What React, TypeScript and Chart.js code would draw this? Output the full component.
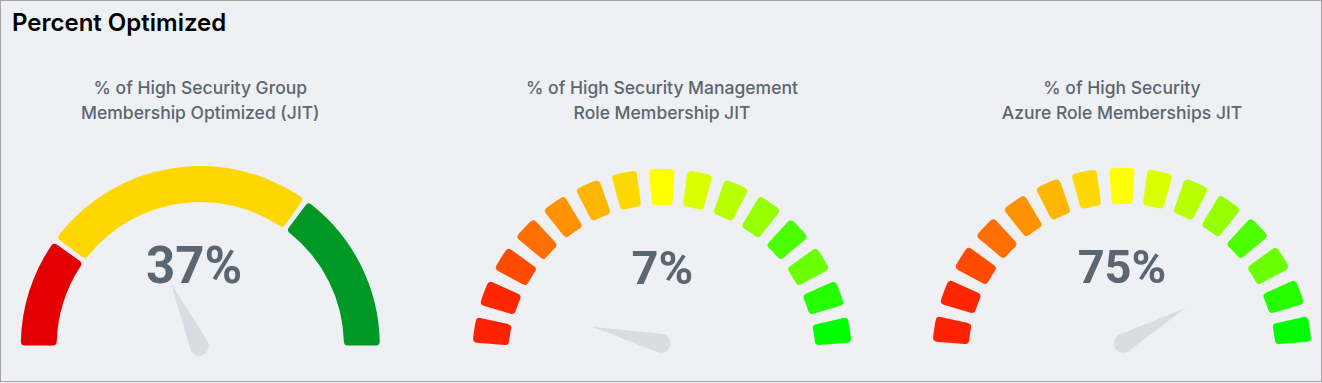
import React, { useEffect, useRef } from 'react';
import { Chart, registerables } from 'chart.js';

Chart.register(...registerables);

// ---------- data ----------
const PANEL_TITLE = 'Percent Optimized';
const GAUGE_TITLES: string[][] = [
  ['% of High Security Group', 'Membership Optimized (JIT)'],
  ['% of High Security Management', 'Role Membership JIT'],
  ['% of High Security', 'Azure Role Memberships JIT'],
];
const GAUGE_LABELS = ['37%', '7%', '75%'];
const NEEDLE_VALUES = [36.5, 7.5, 83.5];
// first gauge: three bands (upper limits in %)
const BAND_LIMITS = [20, 70, 100];
const BAND_COLORS = ['#e30000', '#ffd700', '#009926'];
// second and third gauges: 15 equal steps
const STEP_COLORS = [
  '#ff2200', '#ff2600', '#ff4a00', '#ff6e00', '#ff9200',
  '#ffb600', '#ffd800', '#ffff00', '#dcff00', '#b8ff00',
  '#96ff00', '#4cff00', '#6cff00', '#26ff00', '#00ff00',
];

// ---------- layout / style ----------
const FONT = 'Inter, "Noto Sans", sans-serif';
const VALUE_FONT = 'Roboto, "Liberation Sans", sans-serif';
const BG = '#eef0f4';
const NEEDLE_COLOR = '#d9dce3';
const TRANSPARENT = 'rgba(0,0,0,0)';

type Layout = {
  kind: 'bands' | 'steps';
  cx: number; cy: number; r: number; cutout: number;
  rotation: number; circumference: number;
  gap: number; // degrees for bands, fraction of slot for steps
  pivotDx: number; pivotDy: number; needleLen: number; needleR: number;
  labelX: number; labelTop: number; labelSize: number;
};

const LAYOUTS: Layout[] = [
  { kind: 'bands', cx: 200.3, cy: 345.5, r: 179.5, cutout: 0.8, rotation: -90, circumference: 180, gap: 1.8, pivotDx: -1, pivotDy: 0.5, needleLen: 69, needleR: 9.5, labelX: 194, labelTop: 240.4, labelSize: 51 },
  { kind: 'steps', cx: 662, cy: 358.7, r: 190, cutout: 0.81, rotation: -87, circumference: 174, gap: 0.336, pivotDx: -1, pivotDy: -15.4, needleLen: 71, needleR: 9.5, labelX: 662.3, labelTop: 243.6, labelSize: 47 },
  { kind: 'steps', cx: 1122, cy: 357.7, r: 190, cutout: 0.81, rotation: -87, circumference: 174, gap: 0.336, pivotDx: 1.3, pivotDy: -14.4, needleLen: 72, needleR: 9.5, labelX: 1122, labelTop: 243.1, labelSize: 47 },
];

const CANVAS_TOP = 140;
const CANVAS_H = 243;
const CANVAS_W = 430;

function bandDataset(circ: number, gapDeg: number) {
  const data: number[] = [];
  const colors: string[] = [];
  let prev = 0;
  BAND_LIMITS.forEach((lim, i) => {
    const start = (prev * circ) / 100 + (i === 0 ? 0 : gapDeg / 2);
    const end = (lim * circ) / 100 - (i === BAND_LIMITS.length - 1 ? 0 : gapDeg / 2);
    if (i > 0) { data.push(gapDeg); colors.push(TRANSPARENT); }
    data.push(end - start);
    colors.push(BAND_COLORS[i]);
    prev = lim;
  });
  return { data, colors };
}

function stepDataset(circ: number, gapFrac: number) {
  const slot = circ / STEP_COLORS.length;
  const gap = slot * gapFrac;
  const seg = slot - gap;
  const data: number[] = [gap / 2];
  const colors: string[] = [TRANSPARENT];
  STEP_COLORS.forEach((c, i) => {
    data.push(seg); colors.push(c);
    data.push(i === STEP_COLORS.length - 1 ? gap / 2 : gap); colors.push(TRANSPARENT);
  });
  return { data, colors };
}

function norm(a: number) {
  const t = Math.PI * 2;
  return ((a % t) + t) % t;
}

function arcBox(rotationDeg: number, circDeg: number, cutout: number) {
  const start = ((rotationDeg - 90) * Math.PI) / 180;
  const end = start + (circDeg * Math.PI) / 180;
  const span = norm(end - start) || Math.PI * 2;
  const inArc = (a: number) => {
    const d = norm(a - start);
    return d <= span + 1e-9 || d > Math.PI * 2 - 1e-9;
  };
  const sx = Math.cos(start), sy = Math.sin(start), ex = Math.cos(end), ey = Math.sin(end);
  const mx = (a: number, p: number, q: number) => (inArc(a) ? 1 : Math.max(p, p * cutout, q, q * cutout));
  const mn = (a: number, p: number, q: number) => (inArc(a) ? -1 : Math.min(p, p * cutout, q, q * cutout));
  return {
    maxX: mx(0, sx, ex),
    maxY: mx(Math.PI / 2, sy, ey),
    minX: mn(Math.PI, sx, ex),
    minY: mn(Math.PI * 1.5, sy, ey),
  };
}

function Gauge({ index }: { index: number }) {
  const ref = useRef<HTMLCanvasElement | null>(null);
  const L = LAYOUTS[index];
  const left0 = Math.round(L.cx - CANVAS_W / 2);

  useEffect(() => {
    if (!ref.current) return;
    const ds = L.kind === 'bands' ? bandDataset(L.circumference, L.gap) : stepDataset(L.circumference, L.gap);
    const box = arcBox(L.rotation, L.circumference, L.cutout);
    const lx = L.cx - left0;
    const ly = L.cy - CANVAS_TOP;
    const padding = {
      left: lx + box.minX * L.r,
      right: CANVAS_W - (lx + box.maxX * L.r),
      top: ly + box.minY * L.r,
      bottom: CANVAS_H - (ly + box.maxY * L.r),
    };
    const needleValue = NEEDLE_VALUES[index];
    const needle = {
      id: 'needle' + index,
      afterDatasetsDraw(chart: any) {
        const arc = chart.getDatasetMeta(0).data[0];
        if (!arc) return;
        const px = arc.x + L.pivotDx;
        const py = arc.y + L.pivotDy;
        const a = Math.PI + (needleValue / 100) * Math.PI;
        const ctx = chart.ctx;
        ctx.save();
        ctx.fillStyle = NEEDLE_COLOR;
        ctx.beginPath();
        ctx.arc(px, py, L.needleR, a + Math.PI / 2, a + (3 * Math.PI) / 2, false);
        ctx.lineTo(px + Math.cos(a) * L.needleLen, py + Math.sin(a) * L.needleLen);
        ctx.closePath();
        ctx.fill();
        ctx.restore();
      },
    };
    const chart = new Chart(ref.current, {
      type: 'doughnut',
      data: {
        labels: ds.data.map((_, i) => String(i)),
        datasets: [{
          data: ds.data,
          backgroundColor: ds.colors,
          borderWidth: 0,
          borderRadius: 4,
          hoverOffset: 0,
        }],
      },
      options: {
        responsive: false,
        animation: false,
        events: [],
        rotation: L.rotation,
        circumference: L.circumference,
        cutout: L.cutout * 100 + '%',
        radius: L.r,
        layout: { padding },
        plugins: { legend: { display: false }, tooltip: { enabled: false }, title: { display: false } },
      } as any,
      plugins: [needle],
    });
    return () => chart.destroy();
  }, []);

  return (
    <canvas
      ref={ref}
      width={CANVAS_W}
      height={CANVAS_H}
      style={{ position: 'absolute', left: left0, top: CANVAS_TOP, width: CANVAS_W, height: CANVAS_H }}
    />
  );
}

export default function App() {
  useEffect(() => {
    document.body.style.margin = '0';
    document.body.style.overflow = 'hidden';
  }, []);
  return (
    <div style={{ position: 'fixed', left: 0, top: 0, width: 1322, height: 383, background: BG, overflow: 'hidden', fontFamily: FONT }}>
      <div style={{ position: 'absolute', left: 0, top: 0, width: 1322, height: 382, border: '1px solid #a5a5a5', boxSizing: 'border-box' }} />
      <div style={{ position: 'absolute', left: 12, top: 11, fontSize: 24, lineHeight: '24px', fontWeight: 600, color: '#000', whiteSpace: 'nowrap' }}>
        {PANEL_TITLE}
      </div>
      {LAYOUTS.map((L, i) => (
        <div key={'t' + i} style={{ position: 'absolute', left: L.cx - 220, width: 440, top: 75.4, textAlign: 'center', fontSize: 17.5, lineHeight: '25px', fontWeight: 500, color: '#5b6670' }}>
          {GAUGE_TITLES[i].map((line, j) => (<div key={j}>{line}</div>))}
        </div>
      ))}
      {LAYOUTS.map((_, i) => (<Gauge key={'g' + i} index={i} />))}
      {LAYOUTS.map((L, i) => (
        <div key={'v' + i} style={{ position: 'absolute', left: L.labelX - 150, width: 300, top: L.labelTop, textAlign: 'center', fontFamily: VALUE_FONT, fontSize: L.labelSize, lineHeight: L.labelSize + 'px', fontWeight: 700, color: '#5a6772' }}>
          {GAUGE_LABELS[i]}
        </div>
      ))}
    </div>
  );
}
